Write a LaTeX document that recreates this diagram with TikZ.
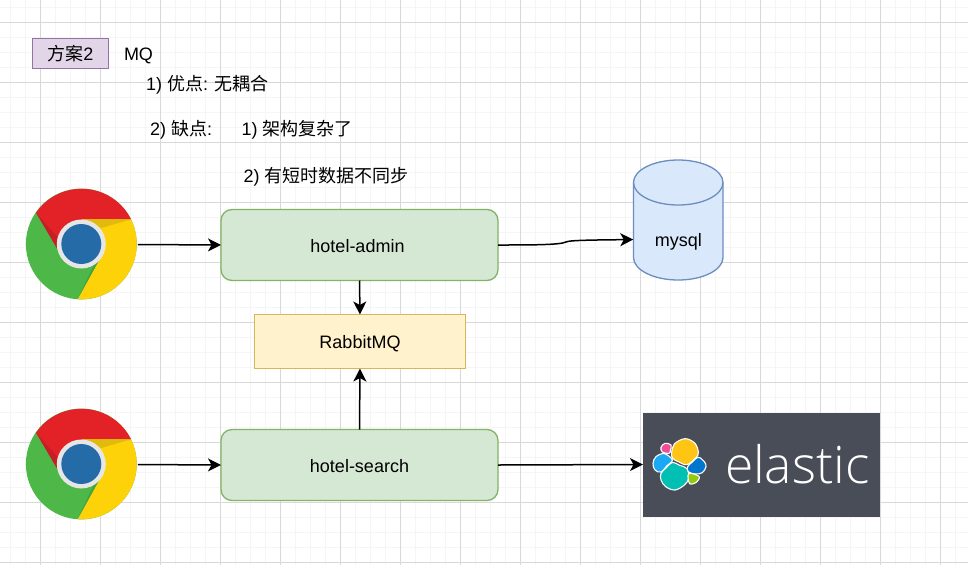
\documentclass[tikz,border=0pt]{standalone}
\usepackage{fontspec}
\setmainfont{Liberation Sans}
\newfontfamily\cjk{Noto Sans CJK SC}
\newfontfamily\elfont{Open Sans Light}
\usetikzlibrary{arrows.meta}
\definecolor{gmaj}{HTML}{D8D8D8}
\definecolor{gmin}{HTML}{F5F5F5}
\definecolor{chred}{HTML}{E22227}
\definecolor{chreddk}{HTML}{C61E25}
\definecolor{chgreen}{HTML}{4DB848}
\definecolor{chgreendk}{HTML}{41A344}
\definecolor{chyellow}{HTML}{FDD209}
\definecolor{chyellowdk}{HTML}{E0BB0B}
\definecolor{chblue}{HTML}{246BA8}
\definecolor{chring}{HTML}{E6E6E6}
\definecolor{appdraw}{HTML}{82B366}
\definecolor{appfill}{HTML}{D5E8D4}
\definecolor{mqdraw}{HTML}{D6B656}
\definecolor{mqfill}{HTML}{FFF2CC}
\definecolor{plandraw}{HTML}{9673A6}
\definecolor{planfill}{HTML}{E1D5E7}
\definecolor{dbdraw}{HTML}{6C8EBF}
\definecolor{dbfill}{HTML}{DAE8FC}
\definecolor{elbg}{HTML}{494D58}
\definecolor{elyellow}{HTML}{FEC514}
\definecolor{elpink}{HTML}{F04E98}
\definecolor{ellblue}{HTML}{1BA9F5}
\definecolor{elteal}{HTML}{00BFB3}
\definecolor{elblue}{HTML}{0077CC}
\definecolor{ellime}{HTML}{93C90E}
\tikzset{
  x=1pt,y=-1pt,
  every node/.style={font=\fontsize{18}{22}\selectfont,text=black,inner sep=0pt,outer sep=0pt},
  labelled/.style={text height=15pt,text depth=1pt},
  linkline/.style={draw=black,line width=1.5pt,-{Stealth[length=13pt,width=13pt,inset=3.5pt]}},
  appbox/.style={labelled,draw=appdraw,fill=appfill,line width=1.3pt,rounded corners=11pt,minimum width=277pt,minimum height=71pt},
  mqbox/.style={labelled,draw=mqdraw,fill=mqfill,line width=1.3pt,minimum width=211pt,minimum height=54pt},
  planbox/.style={labelled,draw=plandraw,fill=planfill,line width=1.3pt,minimum width=76pt,minimum height=30pt},
  plain/.style={labelled,anchor=west},
  blob/.style={draw=white,line width=1.1pt},
  iconspot/.style={circle,minimum size=113pt},
  pics/chromeicon/.style={code={
    \fill[chgreen] (0,0) circle[radius=55.4pt];
    \fill[chred] (-45.3,-31.3) arc[start angle=145.4,end angle=26.4,radius=55.4pt] -- (0,-24.5) -- (-24,0) -- cycle;
    \fill[chyellow] (49.7,-24.7) arc[start angle=26.4,end angle=-93.8,radius=55.4pt] -- (19,14) -- (0,-24.5) -- cycle;
    \fill[chyellowdk] (0,-24.5) -- (49.7,-24.7) -- (20,-16) -- cycle;
    \fill[chreddk] (-45.3,-31.3) -- (-24,5) -- (-24,-7) -- cycle;
    \fill[chgreendk] (-3.7,55) -- (19,14) -- (12,22) -- cycle;
    \fill[chring] (0,0) circle[radius=24.5pt];
    \fill[chblue] (0,0) circle[radius=20pt];
  }}
}
\begin{document}
\begin{tikzpicture}
\useasboundingbox (0,0) rectangle (968,565);
\fill[white] (0,0) rectangle (968,565);
% grid
\foreach \k in {0,...,65} {\draw[gmin,line width=1pt] ({-4.3+15*\k},0) -- ({-4.3+15*\k},565);}
\foreach \k in {0,...,38} {\draw[gmin,line width=1pt] (0,{7.3+15*\k}) -- (968,{7.3+15*\k});}
\foreach \k in {0,...,15} {\draw[gmaj,line width=1pt] ({40.7+60*\k},0) -- ({40.7+60*\k},565);}
\foreach \k in {0,...,9} {\draw[gmaj,line width=1pt] (0,{22.3+60*\k}) -- (968,{22.3+60*\k});}

% header
\node[planbox] (plan) at (70.5,53.5) {{\cjk 方案}2};
\node[plain] (mq) at (124,53.5) {MQ};
\node[plain] (pro) at (146,83) {1) {\cjk 优点}: {\cjk 无耦合}};
\node[plain] (con) at (150,128) {2) {\cjk 缺点}:};
\node[plain] (con1) at (241.5,128) {1) {\cjk 架构复杂了}};
\node[plain] (con2) at (243.5,175) {2) {\cjk 有短时数据不同步}};

% chrome icons
\pic at (81.3,244) {chromeicon};
\pic at (81.3,464) {chromeicon};
\node[iconspot] (c1) at (81.3,244.5) {};
\node[iconspot] (c2) at (81.3,464.5) {};

% boxes
\node[appbox] (admin) at (359.5,245) {hotel-admin\kern4pt};
\node[mqbox] (rabbit) at (360,341.5) {RabbitMQ};
\node[appbox] (search) at (359.5,465) {hotel-search};

% cylinder
\path[draw=dbdraw,fill=dbfill,line width=1.3pt]
  (633.5,182.5) arc[start angle=180,end angle=0,x radius=44.75pt,y radius=22.5pt]
  -- (723,257.5) arc[start angle=0,end angle=-180,x radius=44.75pt,y radius=22.5pt] -- cycle;
\draw[dbdraw,line width=1.3pt]
  (633.5,182.5) arc[start angle=180,end angle=360,x radius=44.75pt,y radius=22.5pt];
\node[labelled,minimum width=90pt] (mysql) at (678.25,239.5) {mysql};

% elastic
\node[fill=elbg,minimum width=237pt,minimum height=104pt] (elastic) at (761.5,464.5) {};
\begin{scope}[shift={(645,430)},x=0.3333pt,y=-0.3333pt]
  \filldraw[blob,fill=elyellow] plot[smooth cycle,tension=0.6] coordinates {(80,68) (88,42) (120,26) (150,40) (160,68) (152,84) (126,104) (100,95) (83,85)};
  \filldraw[blob,fill=elpink] plot[smooth cycle,tension=0.6] coordinates {(48,52) (60,40) (78,45) (76,62) (72,70) (52,66)};
  \filldraw[blob,fill=ellblue] plot[smooth cycle,tension=0.6] coordinates {(24,100) (33,80) (58,71) (82,90) (65,108) (48,126) (30,120)};
  \filldraw[blob,fill=elteal] plot[smooth cycle,tension=0.6] coordinates {(48,130) (64,113) (82,97) (104,106) (126,116) (131,145) (118,165) (90,180) (62,170) (48,150)};
  \filldraw[blob,fill=elblue] plot[smooth cycle,tension=0.6] coordinates {(128,110) (142,96) (160,82) (178,95) (183,110) (172,128) (150,132) (130,125)};
  \filldraw[blob,fill=ellime] plot[smooth cycle,tension=0.6] coordinates {(131,131) (162,139) (155,156) (134,161)};
\end{scope}
\node[anchor=base west,text=white] (eltext) at (725,483) {\fontsize{51.5}{60}\selectfont\elfont elastic};

% connectors
\draw[linkline] (c1.east) -- (admin.west);
\draw[linkline] (c2.east) -- (search.west);
\draw[linkline] (admin.south) -- (rabbit.north);
\draw[linkline] (search.north) -- (rabbit.south);
\draw[linkline] (admin.east) .. controls (530,245) and (560,245) .. (566,242) .. controls (569,240) and (600,240) .. (mysql.west);
\draw[linkline] (search.east) -- (elastic.west);
\end{tikzpicture}
\end{document}
